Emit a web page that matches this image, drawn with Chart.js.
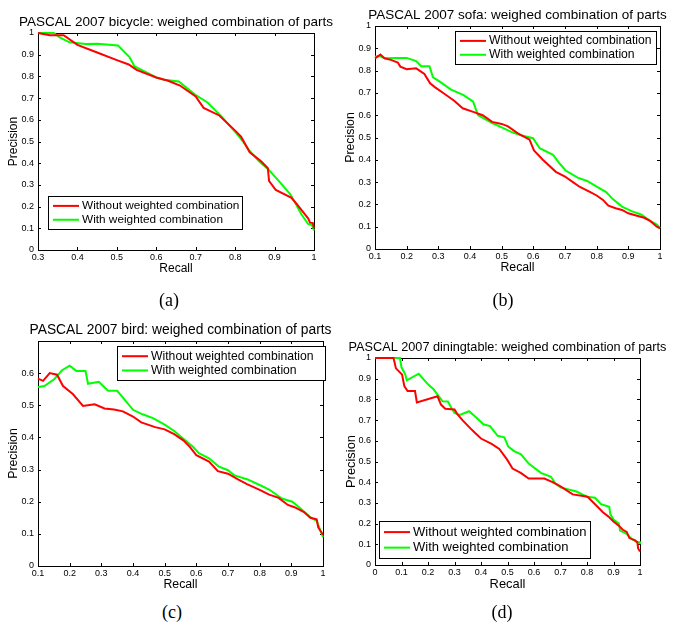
<!DOCTYPE html>
<html>
<head>
<title>PASCAL 2007: weighed combination of parts</title>
<style>
body {
	margin: 0;
	background: #fff;
}

#page {
	position: relative;
	width: 673px;
	height: 625px;
	background: #fff;
	overflow: hidden;
}

canvas {
	position: absolute;
}

.caption {
	position: absolute;
	width: 60px;
	text-align: center;
	line-height: 1;
	font-family: "Liberation Serif", "Times New Roman", serif;
	font-size: 18px;
	color: #000;
}
</style>
<script src="https://cdn.jsdelivr.net/npm/chart.js@4.4.1/dist/chart.umd.min.js"></script>
</head>
<body>
	<div id="page">
		<canvas id="chart-a"></canvas>
		<canvas id="chart-b"></canvas>
		<canvas id="chart-c"></canvas>
		<canvas id="chart-d"></canvas>
		<div class="caption" style="left:139px;top:291px">(a)</div>
		<div class="caption" style="left:473px;top:291px">(b)</div>
		<div class="caption" style="left:142px;top:603px">(c)</div>
		<div class="caption" style="left:472px;top:603px">(d)</div>
	</div>
	<script>
		// [recall, precision] pairs
		const bicycleWithout = [[0.30,1.00],[0.33,0.99],[0.365,0.99],[0.40,0.945],[0.45,0.91],[0.50,0.875],[0.53,0.855],[0.55,0.83],[0.60,0.795],[0.63,0.78],[0.66,0.758],[0.70,0.708],[0.72,0.655],[0.76,0.62],[0.80,0.55],[0.815,0.522],[0.837,0.45],[0.865,0.41],[0.883,0.377],[0.886,0.318],[0.903,0.277],[0.942,0.242],[0.955,0.215],[0.968,0.185],[0.985,0.146],[0.99,0.126],[0.997,0.124],[1.0,0.10]];
		const bicycleWith = [[0.30,1.00],[0.34,1.00],[0.355,0.98],[0.38,0.957],[0.421,0.949],[0.45,0.95],[0.503,0.942],[0.532,0.889],[0.545,0.846],[0.60,0.795],[0.62,0.785],[0.657,0.777],[0.699,0.715],[0.73,0.68],[0.76,0.625],[0.80,0.545],[0.82,0.50],[0.835,0.46],[0.86,0.41],[0.885,0.37],[0.91,0.32],[0.94,0.257],[0.955,0.208],[0.968,0.165],[0.985,0.12],[0.995,0.115],[1.0,0.09]];

		const sofaWithout = [[0.10,0.855],[0.11,0.865],[0.117,0.872],[0.13,0.855],[0.15,0.848],[0.172,0.836],[0.18,0.818],[0.20,0.806],[0.23,0.81],[0.256,0.785],[0.274,0.743],[0.29,0.725],[0.32,0.695],[0.35,0.665],[0.377,0.631],[0.41,0.615],[0.44,0.60],[0.47,0.57],[0.50,0.561],[0.52,0.55],[0.55,0.52],[0.588,0.49],[0.602,0.442],[0.63,0.40],[0.671,0.346],[0.70,0.325],[0.725,0.30],[0.747,0.278],[0.78,0.255],[0.80,0.24],[0.82,0.22],[0.837,0.194],[0.86,0.183],[0.88,0.175],[0.90,0.16],[0.93,0.148],[0.95,0.14],[0.97,0.125],[0.99,0.10],[1.0,0.093]];
		const sofaWith = [[0.10,0.862],[0.115,0.865],[0.13,0.855],[0.17,0.857],[0.20,0.857],[0.23,0.843],[0.246,0.82],[0.272,0.82],[0.283,0.77],[0.30,0.755],[0.34,0.715],[0.38,0.69],[0.41,0.661],[0.425,0.601],[0.47,0.565],[0.50,0.545],[0.53,0.525],[0.56,0.51],[0.599,0.497],[0.62,0.452],[0.662,0.422],[0.685,0.38],[0.702,0.352],[0.74,0.32],[0.77,0.305],[0.80,0.28],[0.83,0.255],[0.85,0.225],[0.88,0.19],[0.91,0.17],[0.94,0.155],[0.97,0.125],[0.99,0.11],[1.0,0.093]];

		const birdWithout = [[0.10,0.583],[0.116,0.576],[0.137,0.60],[0.16,0.595],[0.179,0.56],[0.21,0.535],[0.242,0.498],[0.279,0.503],[0.31,0.49],[0.34,0.487],[0.368,0.481],[0.40,0.465],[0.426,0.447],[0.47,0.432],[0.50,0.425],[0.53,0.41],[0.56,0.39],[0.58,0.37],[0.60,0.345],[0.64,0.325],[0.668,0.295],[0.70,0.287],[0.73,0.27],[0.76,0.255],[0.80,0.237],[0.83,0.222],[0.86,0.212],[0.889,0.19],[0.91,0.183],[0.94,0.168],[0.96,0.15],[0.98,0.145],[0.985,0.12],[1.0,0.097]];
		const birdWith = [[0.10,0.557],[0.12,0.56],[0.15,0.58],[0.176,0.609],[0.20,0.623],[0.221,0.607],[0.25,0.607],[0.258,0.567],[0.292,0.573],[0.321,0.545],[0.35,0.545],[0.38,0.51],[0.40,0.486],[0.43,0.472],[0.463,0.46],[0.50,0.44],[0.53,0.42],[0.56,0.395],[0.59,0.37],[0.608,0.351],[0.64,0.335],[0.67,0.31],[0.70,0.298],[0.72,0.282],[0.76,0.27],[0.80,0.252],[0.83,0.238],[0.87,0.21],[0.903,0.20],[0.93,0.178],[0.96,0.152],[0.98,0.14],[1.0,0.09]];

		const tableWithout = [[0,1.0],[0.07,1.0],[0.079,0.95],[0.102,0.92],[0.111,0.863],[0.123,0.84],[0.151,0.84],[0.158,0.785],[0.236,0.815],[0.249,0.775],[0.265,0.755],[0.30,0.751],[0.31,0.73],[0.33,0.70],[0.36,0.66],[0.38,0.635],[0.40,0.611],[0.44,0.585],[0.469,0.561],[0.498,0.51],[0.519,0.466],[0.55,0.445],[0.58,0.418],[0.639,0.418],[0.67,0.40],[0.70,0.38],[0.746,0.341],[0.802,0.33],[0.836,0.286],[0.86,0.255],[0.88,0.235],[0.90,0.21],[0.92,0.19],[0.935,0.17],[0.95,0.16],[0.96,0.13],[0.98,0.12],[0.99,0.11],[0.993,0.08],[1.0,0.065]];
		const tableWith = [[0,1.0],[0.094,1.0],[0.10,0.955],[0.114,0.921],[0.12,0.892],[0.165,0.924],[0.199,0.874],[0.22,0.85],[0.255,0.791],[0.275,0.79],[0.29,0.755],[0.30,0.735],[0.32,0.725],[0.355,0.743],[0.38,0.715],[0.409,0.68],[0.434,0.671],[0.463,0.624],[0.488,0.617],[0.503,0.572],[0.525,0.55],[0.551,0.535],[0.58,0.49],[0.626,0.445],[0.664,0.426],[0.68,0.395],[0.70,0.375],[0.76,0.355],[0.80,0.33],[0.83,0.325],[0.853,0.294],[0.884,0.281],[0.888,0.246],[0.90,0.22],[0.92,0.20],[0.925,0.166],[0.95,0.15],[0.97,0.125],[0.99,0.11],[1.0,0.11],[1.0,0.10]];

		const recallTicksA = [0.3, 0.4, 0.5, 0.6, 0.7, 0.8, 0.9, 1];
		const recallTicksBC = [0.1, 0.2, 0.3, 0.4, 0.5, 0.6, 0.7, 0.8, 0.9, 1];
		const recallTicksD = [0, 0.1, 0.2, 0.3, 0.4, 0.5, 0.6, 0.7, 0.8, 0.9, 1];
		const precisionTicks = [0, 0.1, 0.2, 0.3, 0.4, 0.5, 0.6, 0.7, 0.8, 0.9, 1];
		const precisionTicksC = [0, 0.1, 0.2, 0.3, 0.4, 0.5, 0.6];

		const seriesNames = ['Without weighted combination', 'With weighted combination'];
		const titles = [
			'PASCAL 2007 bicycle: weighed combination of parts',
			'PASCAL 2007 sofa: weighed combination of parts',
			'PASCAL 2007 bird: weighed combination of parts',
			'PASCAL 2007 diningtable: weighed combination of parts'
		];

		const FONT = '"Liberation Sans", Arial, Helvetica, sans-serif';
		const Y_AXIS_W = 38, X_AXIS_H = 30, TOP_PAD = 33;

		// plot areas are in page pixels
		const panels = [
			{ id: 'chart-a', title: titles[0], without: bicycleWithout, with: bicycleWith,
			  xTicks: recallTicksA, yTicks: precisionTicks, xMin: 0.3, yMax: 1,
			  area: { l: 38, t: 33, r: 314, b: 250 }, titleSize: 13.5, fs: 12, legendSize: 11.8,
			  legend: { x: 48, y: 196, w: 194, h: 33 } },
			{ id: 'chart-b', title: titles[1], without: sofaWithout, with: sofaWith,
			  xTicks: recallTicksBC, yTicks: precisionTicks, xMin: 0.1, yMax: 1,
			  area: { l: 375, t: 26, r: 660, b: 249 }, titleSize: 13.5, fs: 12.3, legendSize: 12.2,
			  legend: { x: 455, y: 31, w: 201, h: 33 } },
			{ id: 'chart-c', title: titles[2], without: birdWithout, with: birdWith,
			  xTicks: recallTicksBC, yTicks: precisionTicksC, xMin: 0.1, yMax: 0.7,
			  area: { l: 38, t: 341, r: 323, b: 566 }, titleSize: 13.8, fs: 12.3, legendSize: 12.2,
			  legend: { x: 117, y: 346, w: 208, h: 34 } },
			{ id: 'chart-d', title: titles[3], without: tableWithout, with: tableWith,
			  xTicks: recallTicksD, yTicks: precisionTicks, xMin: 0, yMax: 1,
			  area: { l: 375, t: 358, r: 640, b: 565 }, titleSize: 12.7, fs: 12.9, legendSize: 13,
			  legend: { x: 379, y: 521, w: 211, h: 37 } }
		];

		function fmt(v) {
			return String(Math.round(v * 10) / 10);
		}

		function makeFrame(p, left, top) {
			return {
				id: 'frame',
				beforeDatasetsDraw(chart) {
					const ctx = chart.ctx;
					const a = chart.chartArea;
					const xs = chart.scales.x, ys = chart.scales.y;
					ctx.save();
					ctx.strokeStyle = '#000';
					ctx.lineWidth = 1;
					ctx.strokeRect(Math.round(a.left) + 0.5, Math.round(a.top) + 0.5,
						Math.round(a.right - a.left), Math.round(a.bottom - a.top));
					ctx.beginPath();
					p.xTicks.forEach(v => {
						const px = Math.round(xs.getPixelForValue(v)) + 0.5;
						ctx.moveTo(px, a.bottom); ctx.lineTo(px, a.bottom - 3);
						ctx.moveTo(px, a.top); ctx.lineTo(px, a.top + 3);
					});
					p.yTicks.forEach(v => {
						const py = Math.round(ys.getPixelForValue(v)) + 0.5;
						ctx.moveTo(a.left, py); ctx.lineTo(a.left + 3, py);
						ctx.moveTo(a.right, py); ctx.lineTo(a.right - 3, py);
					});
					ctx.stroke();
					ctx.restore();
				},
				afterDraw(chart) {
					const ctx = chart.ctx;
					const a = chart.chartArea;
					ctx.save();
					ctx.fillStyle = '#000';
					ctx.font = p.titleSize + 'px ' + FONT;
					ctx.textAlign = 'center';
					ctx.textBaseline = 'middle';
					ctx.fillText(p.title, (a.left + a.right) / 2, a.top - 11);

					// legend box
					const lx = p.legend.x - left, ly = p.legend.y - top;
					ctx.fillStyle = '#fff';
					ctx.fillRect(lx, ly, p.legend.w, p.legend.h);
					ctx.strokeStyle = '#000';
					ctx.lineWidth = 1;
					ctx.strokeRect(Math.round(lx) + 0.5, Math.round(ly) + 0.5, p.legend.w, p.legend.h);
					const rows = [ly + p.legend.h * 0.3, ly + p.legend.h * 0.72];
					const colors = ['rgb(255,0,0)', 'rgb(0,255,0)'];
					ctx.font = p.legendSize + 'px ' + FONT;
					ctx.textAlign = 'left';
					rows.forEach((ry, i) => {
						ctx.strokeStyle = colors[i];
						ctx.lineWidth = 2;
						ctx.beginPath();
						ctx.moveTo(lx + 5, ry);
						ctx.lineTo(lx + 31, ry);
						ctx.stroke();
						ctx.fillStyle = '#000';
						ctx.fillText(seriesNames[i], lx + 34, ry);
					});
					ctx.restore();
				}
			};
		}

		panels.forEach(p => {
			const canvas = document.getElementById(p.id);
			const left = p.area.l - Y_AXIS_W;
			const top = p.area.t - TOP_PAD;
			const padR = Math.min(33, 673 - p.area.r);
			const width = p.area.r - left + padR;
			const height = TOP_PAD + (p.area.b - p.area.t) + X_AXIS_H;
			canvas.width = width;
			canvas.height = height;
			canvas.style.left = left + 'px';
			canvas.style.top = top + 'px';

			new Chart(canvas.getContext('2d'), {
				type: 'line',
				data: {
					datasets: [
						{ label: seriesNames[0], data: p.without.map(d => ({ x: d[0], y: d[1] })),
						  borderColor: 'rgb(255,0,0)', borderWidth: 2, pointRadius: 0, tension: 0, fill: false, clip: 2 },
						{ label: seriesNames[1], data: p.with.map(d => ({ x: d[0], y: d[1] })),
						  borderColor: 'rgb(0,255,0)', borderWidth: 2, pointRadius: 0, tension: 0, fill: false, clip: 2 }
					]
				},
				options: {
					responsive: false,
					animation: false,
					layout: { padding: { left: 0, top: TOP_PAD, right: padR, bottom: 0 } },
					plugins: {
						legend: { display: false },
						tooltip: { enabled: false },
						title: { display: false }
					},
					scales: {
						x: {
							type: 'linear',
							min: p.xMin,
							max: 1,
							grid: { display: false, drawTicks: false },
							border: { display: false },
							afterBuildTicks: s => { s.ticks = p.xTicks.map(v => ({ value: v })); },
							afterFit: s => { s.height = X_AXIS_H; },
							ticks: { color: '#000', padding: 2, maxRotation: 0, autoSkip: false,
								font: { family: FONT, size: 9 }, callback: v => fmt(v) },
							title: { display: true, text: 'Recall', color: '#000',
								font: { family: FONT, size: p.fs, lineHeight: 1 },
								padding: { top: 0, bottom: 11 - p.fs / 2 } }
						},
						y: {
							type: 'linear',
							min: 0,
							max: p.yMax,
							grid: { display: false, drawTicks: false },
							border: { display: false },
							afterBuildTicks: s => { s.ticks = p.yTicks.map(v => ({ value: v })); },
							afterFit: s => { s.width = Y_AXIS_W; },
							ticks: { color: '#000', padding: 4, autoSkip: false,
								font: { family: FONT, size: 9 }, callback: v => fmt(v) },
							title: { display: true, text: 'Precision', color: '#000',
								font: { family: FONT, size: p.fs, lineHeight: 1 },
								padding: { top: 14 - p.fs / 2, bottom: 0 } }
						}
					}
				},
				plugins: [makeFrame(p, left, top)]
			});
		});
	</script>
</body>
</html>
